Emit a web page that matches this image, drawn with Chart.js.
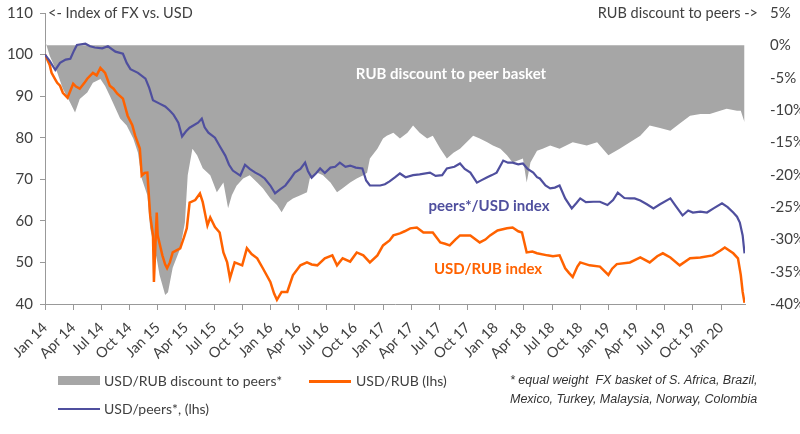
<!DOCTYPE html>
<html>
<head>
<meta charset="utf-8">
<script src="https://cdn.jsdelivr.net/npm/chart.js@4.4.1/dist/chart.umd.min.js"></script>
<style>
body { margin: 0; background: #fff; }
#wrap { position: relative; width: 800px; height: 434px; overflow: hidden; }
#myChart { position: absolute; left: 0; top: -13px; }
.lg { position: absolute; font: 14px Lato, sans-serif; color: #404040; white-space: nowrap; line-height: 18px; }
.sw { position: absolute; }
.note { position: absolute; left: 510px; top: 371px; font: italic 12.5px "Liberation Sans", sans-serif; color: #333; line-height: 19px; white-space: nowrap; }
</style>
</head>
<body>
<div id="wrap">
<canvas id="myChart" width="800" height="447"></canvas>
<div class="sw" style="left:58px;top:376px;width:42px;height:9px;background:#a6a6a6"></div>
<div class="lg" style="left:104px;top:372px">USD/RUB discount to peers*</div>
<div class="sw" style="left:309px;top:380px;width:42px;height:3px;background:#ff6200"></div>
<div class="lg" style="left:356px;top:372px">USD/RUB (lhs)</div>
<div class="sw" style="left:58px;top:408px;width:42px;height:2px;background:#4f4f9e"></div>
<div class="lg" style="left:104px;top:400px">USD/peers*, (lhs)</div>
<div class="note">* equal weight&nbsp; FX basket of S. Africa, Brazil,<br>Mexico, Turkey, Malaysia, Norway, Colombia</div>
</div>
<script>
// x values are months since Jan 2014
var monthNames = ["Jan", "Apr", "Jul", "Oct"];

var tPurple = [0,0.5,1.1,1.6,2.2,2.7,3.1,3.4,4.3,4.8,5.3,6.1,6.7,7.5,8.3,8.7,9.1,9.9,10.7,11.1,
    11.5,12.2,12.8,13.3,13.7,14.2,14.6,15.0,15.4,16.3,16.7,17.0,17.4,18.1,18.6,19.2,19.6,20.0,20.8,21.3,
    21.8,22.4,22.9,23.4,24.0,24.5,25.0,25.6,26.1,26.6,27.2,27.7,28.0,28.4,28.9,29.3,29.8,30.4,30.9,31.4,
    32.0,32.5,33.1,33.8,34.2,34.6,35.1,35.7,36.2,36.7,37.3,37.8,38.4,39.2,39.9,41.0,41.6,42.3,42.8,43.6,
    44.2,44.7,45.3,46.0,46.5,47.1,47.6,48.1,48.8,49.3,49.8,50.4,50.9,51.4,52.0,52.4,52.7,53.3,53.8,54.3,
    54.8,55.4,56.1,56.6,57.0,57.6,58.4,59.1,59.9,60.5,61.0,61.7,62.3,62.8,63.4,64.1,64.8,65.5,66.6,67.2,
    67.9,68.5,69.0,69.8,70.5,71.2,72.1,72.7,73.3,73.7,74.0,74.3,74.5];
var peersUsd = [100,98.5,96.3,98,98.8,99,101,102.3,102.6,102,101.7,101.5,102,100.7,100.2,98,96.5,95.6,94.2,92,
    89,88.2,87.5,86.5,85.5,83.6,80.3,81.5,82.4,83.6,84.6,82.5,81.2,80,78,75.7,73.5,72.1,70.9,73.5,
    72.5,71.6,71,70.2,68.5,66.6,67.5,68.5,70,71.6,72.5,74,72,70.4,71.5,72.6,71.5,72.8,73,74,
    73,73.3,72.8,72.6,69.7,68.5,68.5,68.5,68.8,69.5,70.5,71.4,70.5,71,71.2,71.6,70.8,71,72.6,73,
    73.8,72.5,71.6,69.2,69.8,70.5,71,71.6,74.5,74,74,73.6,73.8,72.5,71.6,70.5,70.2,68.5,67.8,68,
    68.5,65.4,63,64.3,65.4,64.5,64.6,64.6,63.8,65,66.8,65.5,65.4,65.4,64.9,64,63,64,65.4,63.5,
    61.3,62.5,62,62.2,62,63,64.2,63.3,62,61,59.6,56.5,52.2];

var tOrange = [0,0.2,0.5,0.7,1.1,1.3,1.6,1.9,2.4,3.0,
    3.3,3.7,4.2,4.5,5.1,5.5,5.9,6.4,6.9,7.3,
    7.7,8.3,8.8,9.3,9.6,10.1,10.3,10.6,10.9,11.2,
    11.5,11.6,11.9,12.0,12.5,12.8,13.0,13.3,13.6,14.4,
    14.8,15.1,15.4,16.0,16.5,16.8,17.3,17.6,18.1,18.6,
    19.0,19.4,19.7,20.2,21.0,21.5,22.0,22.6,23.2,24.0,
    24.4,24.7,25.2,25.8,26.4,27.2,27.9,28.4,29.0,29.8,
    30.6,31.1,31.7,32.5,33.2,33.9,34.6,35.4,36.0,36.7,
    37.1,37.8,38.3,38.9,39.6,40.3,41.3,42.1,42.6,43.1,
    43.7,44.2,45.3,46.3,46.9,47.4,48.2,49.2,49.8,50.4,
    50.8,51.3,51.9,52.4,53.5,54.1,54.8,55.4,55.8,56.2,
    56.7,57.0,58.0,59.1,60.0,60.4,60.9,62.3,63.4,64.4,
    65.2,65.8,66.6,67.6,68.7,69.8,71.1,71.9,72.4,73.3,
    73.8,74.1,74.3,74.5];
var usdRub = [100,99,97.5,95.6,94,93.2,92.5,90.8,89.6,93,
    92.3,91.8,93.2,94.2,95.6,95,96.8,95.6,92.5,91.8,
    90.6,89.4,85.3,83,80.5,77.4,70.9,71.5,71.6,61.3,
    56.5,45.3,62,56.5,51.7,49.5,48.6,50,52.4,53.4,
    56,58.2,64.4,65,66.6,64.5,58.9,60.8,58.5,57.2,
    52.4,50,46.2,50,49.3,53.4,52,51,48.6,45.3,
    42.5,41,42.9,42.9,46.9,49.3,50,49.5,49.3,51,
    51.7,49.3,51,50.2,52.4,51.7,50,51.7,54.1,55.3,
    56.5,57,57.5,58.2,58.4,57.2,57.2,54.8,54.5,54.1,
    55.5,56.5,56.5,54.8,55.5,56.5,57.7,58.2,58.4,57.5,
    57.2,52.4,52.6,52.2,51.7,51.5,51.7,48.6,47.5,46.5,
    49,50,49.3,49,47,48.5,49.6,50,51.2,50,
    51.5,52.2,51.2,49.3,51,51.2,51.7,52.8,53.6,52.2,
    51,47,42.9,40.3];

var tGray = [0,0.5,1.3,1.9,2.7,3.2,3.7,4.5,5.1,5.9,
    6.4,6.9,8.0,8.7,9.4,9.9,10.3,10.9,11.2,11.5,
    11.9,12.2,12.8,13.1,13.6,14.4,14.9,15.2,15.7,16.2,
    16.8,17.6,18.3,19.0,19.5,19.9,20.4,21.1,21.8,22.6,
    23.2,24.0,24.7,25.2,25.8,26.4,27.2,27.9,28.2,29.0,
    29.6,30.4,31.1,31.7,32.5,33.2,33.9,34.3,34.6,35.4,
    36.0,36.4,37.1,37.8,38.6,39.2,39.9,40.7,41.3,42.1,
    42.8,43.5,44.2,44.9,45.6,46.3,47.1,47.7,48.5,49.2,
    49.8,50.9,51.3,51.7,52.4,53.0,53.8,54.8,56.2,57.7,
    58.8,60.0,61.2,62.3,63.4,64.4,65.5,66.6,67.6,68.7,
    69.8,70.8,71.9,72.6,73.7,74.1,74.5];
var rubDiscount = [0.8,-1.6,-4.2,-6.7,-8.9,-10.4,-8.3,-7.3,-5.8,-5.2,
    -6.3,-7.8,-11.3,-12.4,-14.4,-16.6,-20.6,-23.2,-28.3,-30.4,
    -33,-35.5,-38.6,-38.2,-34.4,-31.4,-27.4,-20.1,-16,-17,
    -19,-20.1,-22.7,-21.2,-25.2,-23.2,-21.7,-20.6,-20.1,-21.2,
    -22.1,-23.7,-24.7,-25.8,-24.3,-23.7,-23.2,-22.7,-20.6,-19.7,
    -20.1,-21.2,-22.7,-22.1,-21.2,-20.6,-20.1,-19.7,-17.5,-16,
    -14.4,-14,-13.5,-14.4,-13.5,-12.4,-13.5,-14.4,-14,-16,
    -17.5,-16.6,-16,-15,-14,-14.4,-15,-15.5,-16,-17,
    -18.1,-17.5,-21.2,-18.1,-16.3,-16,-15.5,-16,-15,-15.5,
    -15,-17,-16,-15,-14,-12.4,-12.8,-13.2,-12.1,-10.9,
    -10.6,-10.6,-10.1,-9.8,-10.1,-10.1,-11.9];

function pts(ts, vs) {
    return ts.map(function (t, i) { return { x: t, y: vs[i] }; });
}

var txtFont = "Lato, sans-serif";

// axis captions and in-chart labels, placed relative to the plot top
var labelsPlugin = {
    id: "labels",
    afterDatasetsDraw: function (chart) {
        var c = chart.ctx;
        var top = chart.chartArea.top;
        c.save();
        c.textBaseline = "middle";
        c.font = "14.5px " + txtFont;
        c.fillStyle = "#404040";
        c.textAlign = "left";
        c.fillText("<- Index of FX vs. USD", 48, top);
        c.textAlign = "right";
        c.fillText("RUB discount to peers ->", 758, top);
        c.textAlign = "center";
        c.font = "bold 15px " + txtFont;
        c.fillStyle = "#ffffff";
        c.fillText("RUB discount to peer basket", 451, top + 61);
        c.fillStyle = "#4f4f9e";
        c.fillText("peers*/USD index", 489, top + 193);
        c.fillStyle = "#ff6200";
        c.fillText("USD/RUB index", 488, top + 256);
        c.restore();
    }
};

var ctx = document.getElementById("myChart");
var fxChart = new Chart(ctx, {
    type: "line",
    data: {
        datasets: [{
            label: "USD/peers*, (lhs)",
            data: pts(tPurple, peersUsd),
            borderColor: "#4f4f9e",
            borderWidth: 2.2,
            pointRadius: 0,
            yAxisID: "y",
            order: 1
        }, {
            label: "USD/RUB (lhs)",
            data: pts(tOrange, usdRub),
            borderColor: "#ff6200",
            borderWidth: 2.5,
            pointRadius: 0,
            yAxisID: "y",
            order: 2
        }, {
            label: "USD/RUB discount to peers*",
            data: pts(tGray, rubDiscount),
            borderWidth: 0,
            borderColor: "#a6a6a6",
            backgroundColor: "#a6a6a6",
            fill: "origin",
            pointRadius: 0,
            yAxisID: "y1",
            order: 3
        }]
    },
    options: {
        responsive: false,
        animation: false,
        plugins: {
            legend: { display: false },
            tooltip: { enabled: false }
        },
        scales: {
            x: {
                type: "linear",
                min: 0,
                max: 74.55,
                afterBuildTicks: function (s) {
                    s.ticks = s.ticks.filter(function (t) { return t.value % 3 === 0; });
                },
                afterFit: function (s) { s.height = 130; },
                ticks: {
                    stepSize: 3,
                    includeBounds: false,
                    maxTicksLimit: 40,
                    autoSkip: false,
                    maxRotation: 45,
                    minRotation: 45,
                    padding: 9,
                    color: "#404040",
                    font: { family: txtFont, size: 14.5 },
                    callback: function (v) {
                        return monthNames[(v / 3) % 4] + " " + (14 + Math.floor(v / 12));
                    }
                },
                grid: { drawOnChartArea: false, tickLength: 6, color: "#999" },
                border: { color: "#999" }
            },
            y: {
                position: "left",
                min: 40,
                max: 110,
                afterFit: function (s) { s.width = 45; },
                ticks: {
                    stepSize: 10,
                    padding: 7,
                    color: "#404040",
                    font: { family: txtFont, size: 15 }
                },
                grid: { drawOnChartArea: false, tickLength: 5, color: "#999" },
                border: { color: "#999" }
            },
            y1: {
                position: "right",
                min: -40,
                max: 5,
                afterFit: function (s) { s.width = 55; },
                ticks: {
                    stepSize: 5,
                    padding: 17,
                    color: "#404040",
                    font: { family: txtFont, size: 15 },
                    callback: function (v) { return v + "%"; }
                },
                grid: { display: false },
                border: { display: false }
            }
        }
    },
    plugins: [labelsPlugin]
});
</script>
</body>
</html>
